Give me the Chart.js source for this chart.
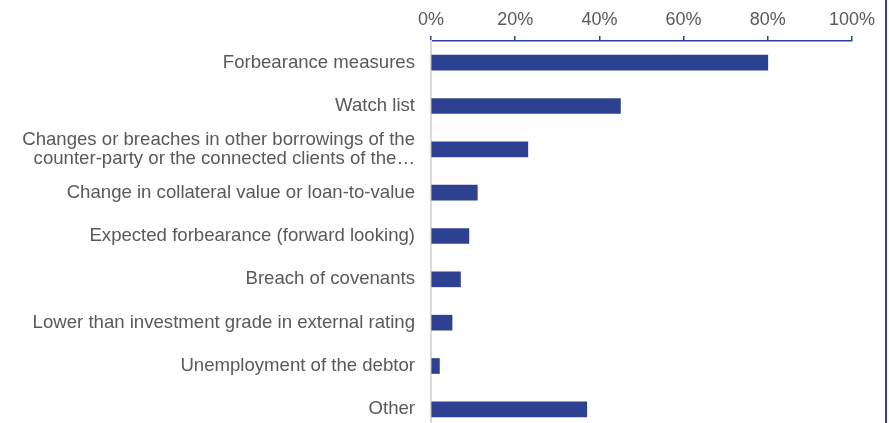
<!DOCTYPE html>
<html>
<head>
<meta charset="utf-8">
<script src="https://cdn.jsdelivr.net/npm/chart.js@4"></script>
<style>
  html, body { margin: 0; padding: 0; background: #fff; overflow: hidden; }
  #wrap { width: 885px; height: 431px; border-right: 2px solid #2E4190; position: relative; }
</style>
</head>
<body>
<div id="wrap"><canvas id="triggers"></canvas></div>
<script>
// SICR trigger categories and share of respondents (%)
const categories = [
  'Forbearance measures',
  'Watch list',
  ['Changes or breaches in other borrowings of the', 'counter-party or the connected clients of the\u2026'],
  'Change in collateral value or loan-to-value',
  'Expected forbearance (forward looking)',
  'Breach of covenants',
  'Lower than investment grade in external rating',
  'Unemployment of the debtor',
  'Other'
];
const shares = [80, 45, 23, 11, 9, 7, 5, 2, 37];
const xTicks = [0, 20, 40, 60, 80, 100];

const navy = '#2E4190';
const grey = '#595959';
const family = "'Liberation Sans', Arial, sans-serif";

new Chart(document.getElementById('triggers'), {
  type: 'bar',
  data: {
    labels: categories,
    datasets: [{
      data: shares,
      backgroundColor: navy,
      barThickness: 15,
      borderWidth: 0
    }]
  },
  options: {
    indexAxis: 'y',
    responsive: true,
    maintainAspectRatio: false,
    animation: false,
    layout: { padding: { left: 0, right: 33, top: 0, bottom: 0 } },
    plugins: {
      legend: { display: false },
      tooltip: { enabled: false }
    },
    scales: {
      x: {
        position: 'top',
        min: 0,
        max: 100,
        afterBuildTicks: (scale) => { scale.ticks = xTicks.map(v => ({ value: v })); },
        afterFit: (scale) => { scale.height = 41; },
        grid: { drawOnChartArea: false, drawTicks: true, tickLength: 5, color: navy, lineWidth: 1.5 },
        border: { display: true, color: navy, width: 1.5 },
        ticks: { color: grey, font: { family: family, size: 18 }, padding: 5, callback: v => v + '%' }
      },
      y: {
        afterFit: (scale) => {
          scale.width = 431;
          scale.paddingTop = 0;
          scale.paddingBottom = 0;
        },
        grid: { display: false, drawTicks: false },
        border: { display: true, color: '#D9D9D9', width: 2 },
        ticks: { color: grey, font: { family: family, size: 18.6, lineHeight: 1.03 }, padding: 16 }
      }
    }
  }
});
</script>
</body>
</html>
